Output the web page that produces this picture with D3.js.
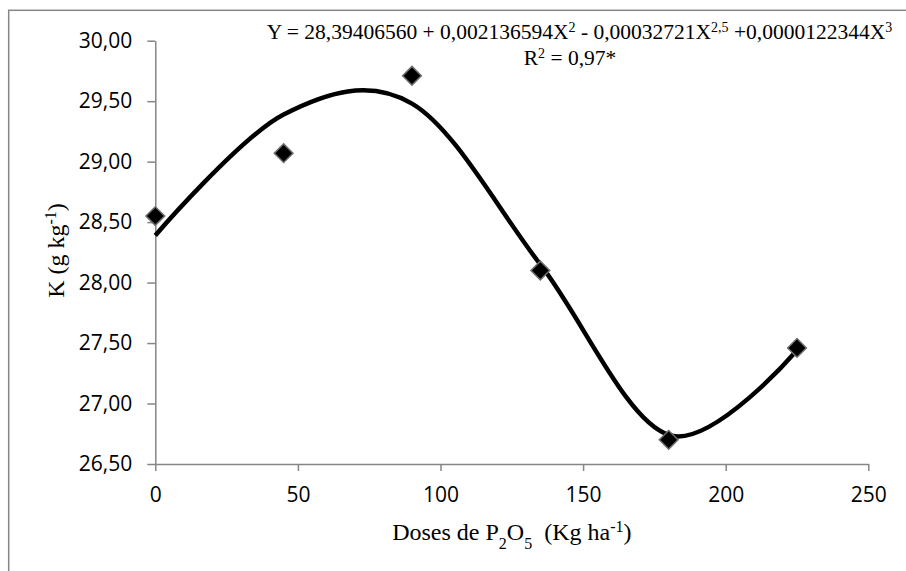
<!DOCTYPE html>
<html>
<head>
<meta charset="utf-8">
<script src="https://cdn.jsdelivr.net/npm/d3@7"></script>
<style>
  html, body { margin: 0; padding: 0; background: #fff; }
  svg { display: block; }
</style>
</head>
<body>
<svg id="chart" width="906" height="571"></svg>
<script>
// ---- data ----
const doses = [0, 45, 90, 135, 180, 225];
const observedK = [28.55, 29.07, 29.71, 28.10, 26.70, 27.46];
const fittedK = [28.39, 29.39, 29.48, 28.15, 26.74, 27.44];
const xTicks = [0, 50, 100, 150, 200, 250];
const yTicks = [26.5, 27.0, 27.5, 28.0, 28.5, 29.0, 29.5, 30.0];

const W = 906, H = 571;
const margin = { left: 155.3, right: 37.7, top: 40.7, bottom: 107 };
const svg = d3.select("#chart");

// outer frame
svg.append("rect")
  .attr("x", 8.7).attr("y", 10.3)
  .attr("width", 1200).attr("height", 1200)
  .attr("fill", "none").attr("stroke", "#868686").attr("stroke-width", 1.5);

const x = d3.scaleLinear().domain([0, 250]).range([margin.left, W - margin.right]);
const y = d3.scaleLinear().domain([26.5, 30]).range([H - margin.bottom, margin.top]);

const fmt = d => d3.format(".2f")(d).replace(".", ",");

// y axis
const gy = svg.append("g")
  .attr("transform", `translate(${margin.left},0)`)
  .call(d3.axisLeft(y).tickValues(yTicks).tickFormat(fmt).tickSize(8).tickSizeOuter(0).tickPadding(15));
// x axis
const gx = svg.append("g")
  .attr("transform", `translate(0,${H - margin.bottom})`)
  .call(d3.axisBottom(x).tickValues(xTicks).tickFormat(d3.format("d")).tickSize(7).tickSizeOuter(0).tickPadding(16));

[gy, gx].forEach(g => {
  g.select(".domain").attr("stroke", "#868686").attr("stroke-width", 1.5);
  g.selectAll(".tick line").attr("stroke", "#868686").attr("stroke-width", 1.5);
  g.selectAll(".tick text")
    .attr("fill", "#000")
    .style("font-family", "'Open Sans', sans-serif")
    .style("font-size", "21px");
});

// fitted curve (smoothed line through fitted values)
const line = d3.line()
  .x((d, i) => x(doses[i]))
  .y(d => y(d))
  .curve(d3.curveCardinal.tension(0));
svg.append("path")
  .datum(fittedK)
  .attr("d", line)
  .attr("fill", "none")
  .attr("stroke", "#000")
  .attr("stroke-width", 4.5)
  .attr("stroke-linejoin", "round");

// observed points (diamonds)
const sym = d3.symbol().type(d3.symbolSquare).size(175);
svg.selectAll(".pt")
  .data(observedK)
  .join("path")
  .attr("class", "pt")
  .attr("d", sym)
  .attr("transform", (d, i) => `translate(${x(doses[i])},${y(d)}) rotate(45)`)
  .attr("fill", "#000")
  .attr("stroke", "#6e6e6e")
  .attr("stroke-width", 1.5);

// texts
const serif = "'Liberation Serif', 'Times New Roman', serif";

// equation
const eq = svg.append("text")
  .attr("x", 579.5).attr("y", 39)
  .attr("text-anchor", "middle")
  .style("font-family", serif).style("font-size", "21.5px").attr("fill", "#000");
const eqParts = [
  ["Y = 28,39406560 + 0,002136594X", null],
  ["2", "sup"],
  [" - 0,00032721X", null],
  ["2,5", "sup"],
  [" +0,0000122344X", null],
  ["3", "sup"]
];
eqParts.forEach(([t, k]) => {
  const ts = eq.append("tspan").text(t);
  if (k === "sup") ts.attr("baseline-shift", "super").style("font-size", "14px");
});

const r2 = svg.append("text")
  .attr("x", 570).attr("y", 65)
  .attr("text-anchor", "middle")
  .style("font-family", serif).style("font-size", "21.5px").attr("fill", "#000");
r2.append("tspan").text("R");
r2.append("tspan").text("2").attr("baseline-shift", "super").style("font-size", "14px");
r2.append("tspan").text(" = 0,97*");

// x axis title
const xt = svg.append("text")
  .attr("x", (margin.left + W - margin.right) / 2).attr("y", 540)
  .attr("text-anchor", "middle")
  .style("font-family", serif).style("font-size", "24px").attr("fill", "#000");
xt.append("tspan").text("Doses de P");
xt.append("tspan").text("2").attr("baseline-shift", "sub").style("font-size", "16px");
xt.append("tspan").text("O");
xt.append("tspan").text("5").attr("baseline-shift", "sub").style("font-size", "16px");
xt.append("tspan").text("\u00a0 (Kg ha");
xt.append("tspan").text("-1").attr("baseline-shift", "super").style("font-size", "16px");
xt.append("tspan").text(")");

// y axis title
const yt = svg.append("text")
  .attr("transform", "translate(64,250.5) rotate(-90)")
  .attr("text-anchor", "middle")
  .style("font-family", serif).style("font-size", "24px").attr("fill", "#000");
yt.append("tspan").text("K (g kg");
yt.append("tspan").text("-1").attr("baseline-shift", "super").style("font-size", "16px");
yt.append("tspan").text(")");
</script>
</body>
</html>
